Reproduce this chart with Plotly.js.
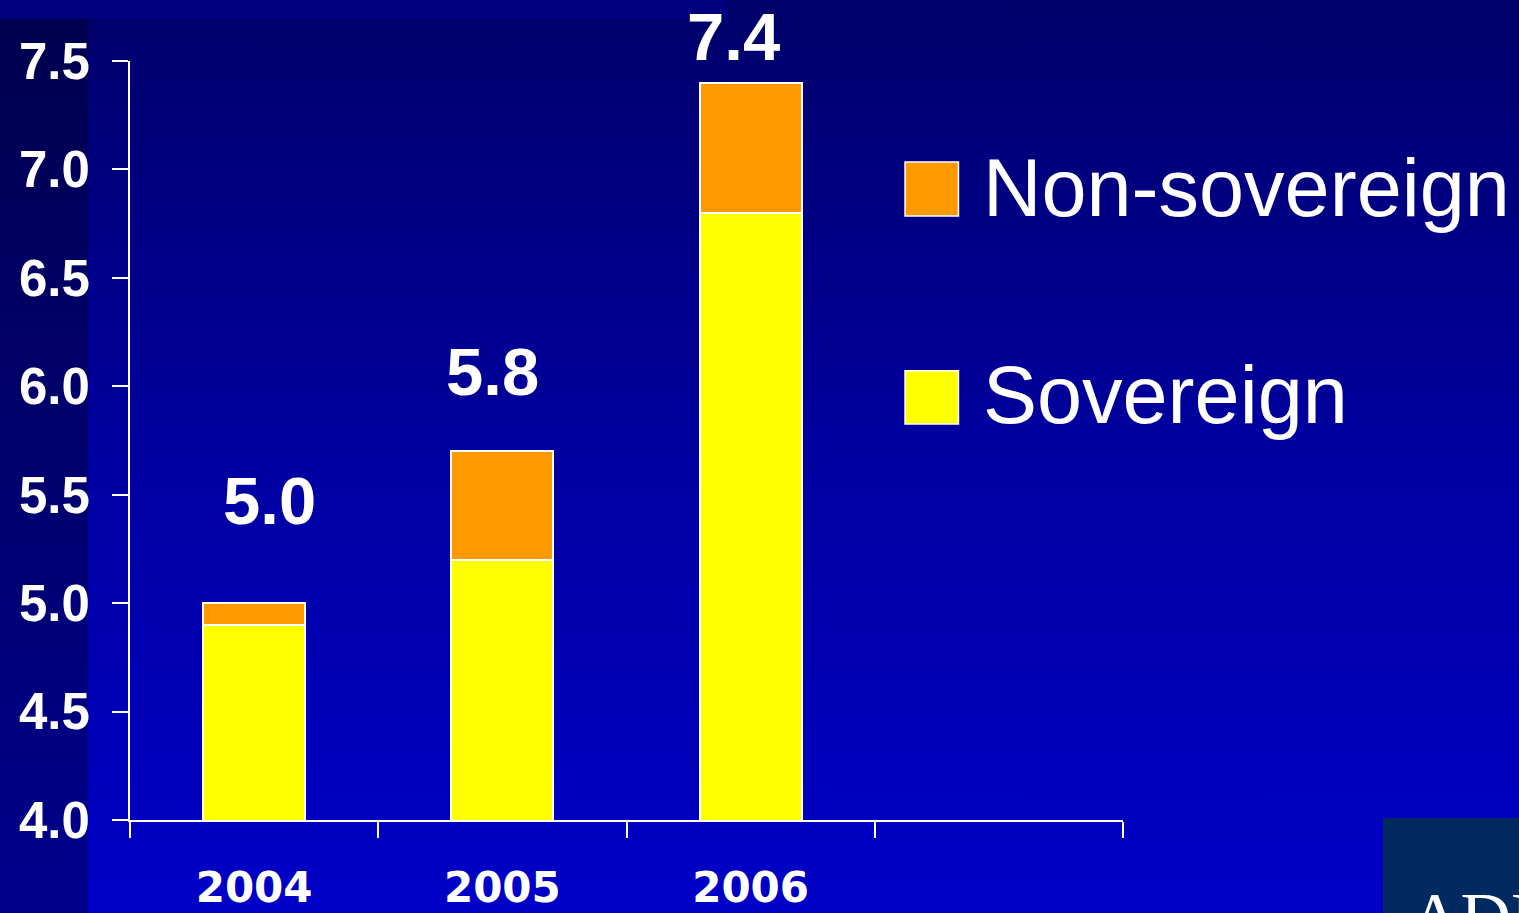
<!DOCTYPE html>
<html>
<head>
<meta charset="utf-8">
<script src="https://cdn.plot.ly/plotly-3.0.1.min.js"></script>
<style>
  html, body { margin:0; padding:0; background:#00006a; }
  #wrap { position:relative; width:1519px; height:913px; overflow:hidden; }
  .bg { position:absolute; }
  #bgMain { left:0; top:0; width:1519px; height:913px; background:linear-gradient(to bottom, #00006a 0%, #0000a0 50%, #0000c8 100%); }
  #bgLeft { left:0; top:19px; width:88px; height:894px; background:linear-gradient(to bottom, #000050 0%, #00008c 100%); }
  #bgTop { left:0; top:0; width:728px; height:19px; background:#00007e; }
  #chart { position:absolute; left:0; top:0; }
</style>
</head>
<body>
<div id="wrap">
  <div class="bg" id="bgMain"></div>
  <div class="bg" id="bgLeft"></div>
  <div class="bg" id="bgTop"></div>
  <div id="chart"></div>
</div>
<script>
// ---- data ----
const years = ['2004', '2005', '2006'];
const emptySlot = ' ';
const sovereign = [4.9, 5.2, 6.8];
const nonSovereign = [0.1, 0.5, 0.6];
const totalLabels = ['5.0', '5.8', '7.4'];
const yTicks = [4.0, 4.5, 5.0, 5.5, 6.0, 6.5, 7.0, 7.5];
const seriesNames = ['Sovereign', 'Non-sovereign'];

// ---- styling ----
const colSov = '#FFFF00';
const colNon = '#FF9900';
const white = '#FFFFFF';
const labelOffsets = [[15, 103], [-10, 80], [-17, 46]]; // [xshift, yshift] px

const traces = [
  { type:'bar', name:seriesNames[0], x:years, y:sovereign,
    marker:{color:colSov, line:{color:white, width:2}}, hoverinfo:'skip' },
  { type:'bar', name:seriesNames[1], x:years, y:nonSovereign,
    marker:{color:colNon, line:{color:white, width:2}}, hoverinfo:'skip' }
];

const annotations = years.map((yr, i) => ({
  x: i, y: sovereign[i] + nonSovereign[i], xref:'x', yref:'y',
  text: totalLabels[i], showarrow:false, xanchor:'center', yanchor:'middle',
  xshift: labelOffsets[i][0], yshift: labelOffsets[i][1],
  font:{family:'Liberation Sans, Arial, sans-serif', size:67, color:white, weight:'bold'}
}));

// custom legend (large squares as in the original slide)
const legendItems = [
  { name: seriesNames[1], color: colNon, y0: 0.7958, y1: 0.8669, ty: 0.8333 },
  { name: seriesNames[0], color: colSov, y0: 0.5217, y1: 0.5919, ty: 0.5606 }
];
const shapes = [];
legendItems.forEach(it => {
  shapes.push({ type:'rect', xref:'paper', yref:'paper', x0:0.7805, x1:0.8343, y0:it.y0, y1:it.y1,
    fillcolor:it.color, line:{color:white, width:1.5} });
  annotations.push({ xref:'paper', yref:'paper', x:0.857, y:it.ty, xanchor:'left', yanchor:'middle',
    text:it.name, showarrow:false,
    font:{family:'Liberation Sans, Arial, sans-serif', size:81, color:white} });
});

// logo box in the corner
shapes.push({ type:'rect', xref:'paper', yref:'paper', x0:1.2618, x1:1.45, y0:-0.2, y1:0.0026,
  fillcolor:'#002a60', line:{width:0} });
annotations.push({ xref:'paper', yref:'paper', x:1.287, y:-0.0751, xanchor:'left', yanchor:'top',
  text:'ADB', showarrow:false, font:{family:'Liberation Serif, serif', size:70, color:white} });

const layout = {
  width:1519, height:913,
  margin:{l:130, r:396, t:61, b:93, pad:0},
  paper_bgcolor:'rgba(0,0,0,0)', plot_bgcolor:'rgba(0,0,0,0)',
  barmode:'stack', bargap:0.59,
  showlegend:false,
  xaxis:{ type:'category', categoryorder:'array', categoryarray:years.concat([emptySlot]),
    range:[-0.5, 3.5], tickson:'boundaries', ticks:'outside', ticklen:16, tickwidth:2, tickcolor:white,
    showline:true, linecolor:white, linewidth:2, showgrid:false, zeroline:false,
    tickfont:{family:'DejaVu Sans, Verdana, sans-serif', size:42, color:white, weight:'bold'},
    ticklabelstandoff:30, fixedrange:true },
  yaxis:{ range:[4, 7.5], tickvals:yTicks, tickformat:'.1f', ticks:'outside', ticklen:16, tickwidth:2,
    tickcolor:white, showline:true, linecolor:white, linewidth:2, showgrid:false, zeroline:false,
    tickfont:{family:'Liberation Sans, Arial, sans-serif', size:51, color:white, weight:'bold'},
    ticklabelstandoff:12, fixedrange:true },
  annotations: annotations,
  shapes: shapes
};

Plotly.newPlot('chart', traces, layout, {displayModeBar:false, staticPlot:true});
</script>
</body>
</html>
